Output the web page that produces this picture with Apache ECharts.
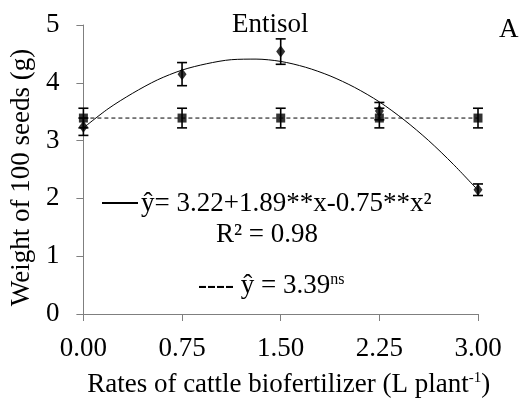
<!DOCTYPE html>
<html>
<head>
<meta charset="utf-8">
<script src="https://cdn.jsdelivr.net/npm/echarts@6/dist/echarts.min.js"></script>
<style>
  html, body { margin: 0; padding: 0; background: #fff; }
  #main { width: 521px; height: 403px; }
</style>
</head>
<body>
<div id="main"></div>
<script>
// rates (L plant-1)
var rates = [0, 0.75, 1.5, 2.25, 3.0];
// observed means and error bars
var quadMeans = [3.24, 4.15, 4.54, 3.51, 2.15];
var quadErr = [0.15, 0.20, 0.22, 0.15, 0.10];
var flatMeans = [3.39, 3.39, 3.39, 3.39, 3.39];
var flatErr = [0.17, 0.17, 0.17, 0.17, 0.17];
// fitted curve
var curveX = [0, 0.1875, 0.375, 0.5625, 0.75, 0.9375, 1.125, 1.3125, 1.5, 1.6875, 1.875, 2.0625, 2.25, 2.4375, 2.625, 2.8125, 3.0];
var curveY = [3.22, 3.55, 3.82, 4.05, 4.22, 4.33, 4.40, 4.41, 4.37, 4.27, 4.12, 3.92, 3.67, 3.36, 3.00, 2.59, 2.14];
var meanLine = 3.39;
var xTicks = ['0.00', '0.75', '1.50', '2.25', '3.00'];

var font = 'Liberation Serif';
var fs = 27;
var myChart = echarts.init(document.getElementById('main'));

function pairs(xs, ys) {
    var out = [];
    for (let i = 0; i < xs.length; i++) out.push([xs[i], ys[i]]);
    return out;
}
function errData(means, errs) {
    var out = [];
    for (let i = 0; i < rates.length; i++) out.push([rates[i], means[i] - errs[i], means[i] + errs[i]]);
    return out;
}
function renderErr(params, api) {
    var lo = api.coord([api.value(0), api.value(1)]);
    var hi = api.coord([api.value(0), api.value(2)]);
    var w = 5;
    var st = { stroke: '#000', lineWidth: 1.6 };
    return {
        type: 'group',
        children: [
            { type: 'line', shape: { x1: lo[0], y1: lo[1], x2: hi[0], y2: hi[1] }, style: st },
            { type: 'line', shape: { x1: lo[0] - w, y1: lo[1], x2: lo[0] + w, y2: lo[1] }, style: st },
            { type: 'line', shape: { x1: hi[0] - w, y1: hi[1], x2: hi[0] + w, y2: hi[1] }, style: st }
        ]
    };
}

var txt = fs + 'px "Liberation Serif"';
var option = {
    animation: false,
    grid: { left: 80, right: 43, top: 25, bottom: 87 },
    xAxis: {
        type: 'value', min: 0, max: 3, interval: 0.75,
        name: 'Rates of cattle biofertilizer (L plant{sup|-1})',
        nameLocation: 'middle', nameGap: 57,
        nameTextStyle: {
            fontFamily: font, fontSize: fs, color: '#000', padding: [0, 0, 0, 16],
            rich: { sup: { fontFamily: font, fontSize: 15, verticalAlign: 'top', color: '#000' } }
        },
        axisLine: { lineStyle: { color: '#7f7f7f', width: 1 } },
        axisTick: { length: 7, lineStyle: { color: '#7f7f7f' } },
        axisLabel: {
            fontFamily: font, fontSize: fs, color: '#000', margin: 21,
            formatter: function (v) { return xTicks[Math.round(v / 0.75)]; }
        },
        splitLine: { show: false }
    },
    yAxis: {
        type: 'value', min: 0, max: 5, interval: 1,
        name: 'Weight of 100 seeds (g)',
        nameLocation: 'middle', nameGap: 48,
        nameTextStyle: { fontFamily: font, fontSize: fs, color: '#000', padding: [0, 16, 0, 0] },
        axisLine: { show: true, lineStyle: { color: '#7f7f7f', width: 1 } },
        axisTick: { show: true, length: 7, lineStyle: { color: '#7f7f7f' } },
        axisLabel: { fontFamily: font, fontSize: fs, color: '#000', margin: 24 },
        splitLine: { show: false }
    },
    graphic: [
        { type: 'text', left: 232, top: 11, style: { text: 'Entisol', font: txt, fill: '#000' } },
        { type: 'text', left: 499, top: 16, style: { text: 'A', font: txt, fill: '#000' } },
        { type: 'line', shape: { x1: 102, y1: 203, x2: 138, y2: 203 }, style: { stroke: '#000', lineWidth: 2 } },
        { type: 'text', left: 141, top: 190, style: {
            text: 'ŷ= 3.22+1.89**x-0.75**x²', font: txt, fill: '#000' } },
        { type: 'text', left: 216, top: 221, style: {
            text: 'R² = 0.98', font: txt, fill: '#000' } },
        { type: 'text', left: 198, top: 272, style: {
            text: '---- ŷ = 3.39{ns|ns}', font: txt, fill: '#000',
            rich: { ns: { fontFamily: font, fontSize: 16, verticalAlign: 'top', fill: '#000' } } } }
    ],
    series: [
        {
            type: 'line', data: [[0, meanLine], [3, meanLine]], symbol: 'none',
            lineStyle: { color: '#000', width: 1, type: [4, 3] }, z: 2
        },
        {
            type: 'line', data: pairs(curveX, curveY), smooth: 0.3, symbol: 'none',
            lineStyle: { color: '#000', width: 1 }, z: 2
        },
        { type: 'custom', data: errData(flatMeans, flatErr), renderItem: renderErr, z: 3 },
        { type: 'custom', data: errData(quadMeans, quadErr), renderItem: renderErr, z: 3 },
        {
            type: 'scatter', data: pairs(rates, flatMeans), symbol: 'rect', symbolSize: 9,
            itemStyle: { color: '#000' }, z: 4
        },
        {
            type: 'scatter', data: pairs(rates, quadMeans), symbol: 'diamond', symbolSize: [9, 12],
            itemStyle: { color: '#000' }, z: 5
        }
    ]
};

option && myChart.setOption(option);
</script>
</body>
</html>
